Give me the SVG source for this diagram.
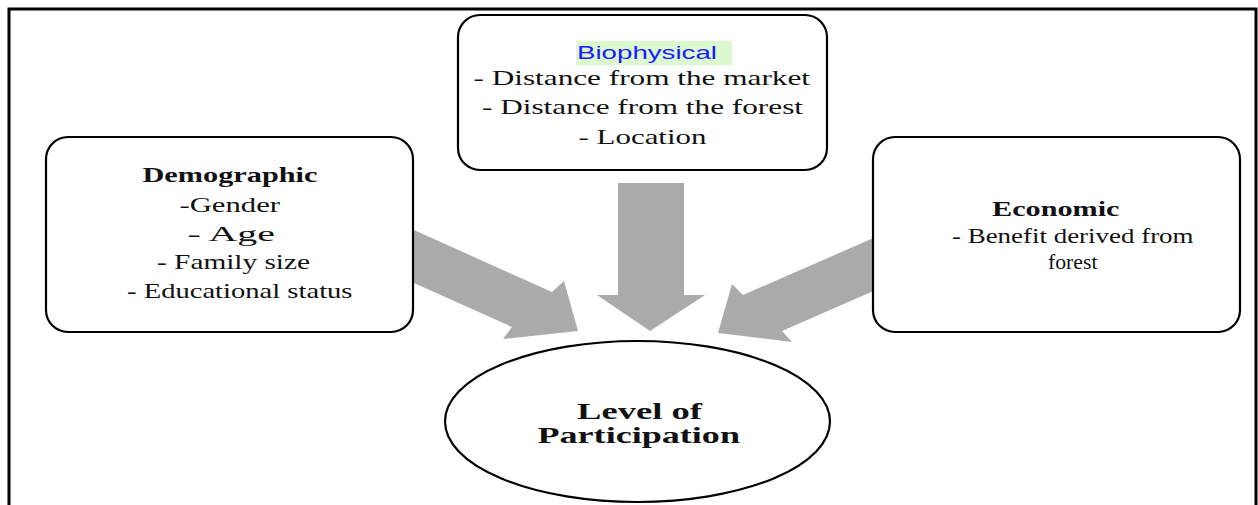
<svg xmlns="http://www.w3.org/2000/svg" width="1258" height="505" viewBox="0 0 1258 505">
<style>
.box{fill:#ffffff;stroke:#000000;stroke-width:2.2}
.arrow{fill:#aaaaaa;stroke:none}
.t{font-family:"Liberation Serif","Times New Roman",serif;font-size:21px;fill:#111111}
.b{font-weight:bold}
.big{font-size:24px}
.sans{font-family:"Liberation Sans",Arial,sans-serif;font-size:18.6px;fill:#1a1aff}
</style>
<rect x="0" y="0" width="1258" height="505" fill="#ffffff"/>
<path d="M9,505 V9 H1256 V505" fill="none" stroke="#000000" stroke-width="3"/>
<g id="connectors">
<polygon class="arrow" points="618,183 684,183 684,295 705,295 650,331 597,295 618,295"/>
<polygon class="arrow" points="405,226 552,292 564,281 578,331 503,339 512,327 405,279"/>
<polygon class="arrow" points="878,236 743,295 732,284 718,333 792,342 782,331 878,289"/>
</g>
<g id="node-biophysical">
<rect class="box" x="458" y="15" width="369" height="155" rx="22" ry="22"/>
<rect x="576" y="41" width="156" height="24" fill="#dcf8cf"/>
<text class="sans" x="577" y="58.5" textLength="140" lengthAdjust="spacingAndGlyphs">Biophysical</text>
<text class="t" x="473.5" y="85" textLength="336.5" lengthAdjust="spacingAndGlyphs">- Distance from the market</text>
<text class="t" x="482" y="114" textLength="321" lengthAdjust="spacingAndGlyphs">- Distance from the forest</text>
<text class="t" x="578.5" y="143.5" textLength="128" lengthAdjust="spacingAndGlyphs">- Location</text>
</g>
<g id="node-demographic">
<rect class="box" x="46" y="137" width="367" height="195" rx="22" ry="22"/>
<text class="t b" x="142.5" y="182" textLength="175" lengthAdjust="spacingAndGlyphs">Demographic</text>
<text class="t" x="179.5" y="211.5" textLength="100.5" lengthAdjust="spacingAndGlyphs">-Gender</text>
<text class="t" x="187.5" y="240.5" textLength="87.5" lengthAdjust="spacingAndGlyphs">- Age</text>
<text class="t" x="157" y="269" textLength="153" lengthAdjust="spacingAndGlyphs">- Family size</text>
<text class="t" x="127" y="298" textLength="225.5" lengthAdjust="spacingAndGlyphs">- Educational status</text>
</g>
<g id="node-economic">
<rect class="box" x="873" y="137" width="367" height="195" rx="22" ry="22"/>
<text class="t b" x="992" y="216" textLength="127.5" lengthAdjust="spacingAndGlyphs">Economic</text>
<text class="t" x="952" y="243" textLength="241.5" lengthAdjust="spacingAndGlyphs">- Benefit derived from</text>
<text class="t" x="1048" y="268.5" textLength="49.5" lengthAdjust="spacingAndGlyphs">forest</text>
</g>
<g id="node-participation">
<ellipse class="box" cx="637.5" cy="421.5" rx="192.5" ry="80.5"/>
<text class="t b big" x="577" y="419" textLength="125" lengthAdjust="spacingAndGlyphs">Level of</text>
<text class="t b big" x="537.5" y="442.5" textLength="202.5" lengthAdjust="spacingAndGlyphs">Participation</text>
</g>
</svg>
